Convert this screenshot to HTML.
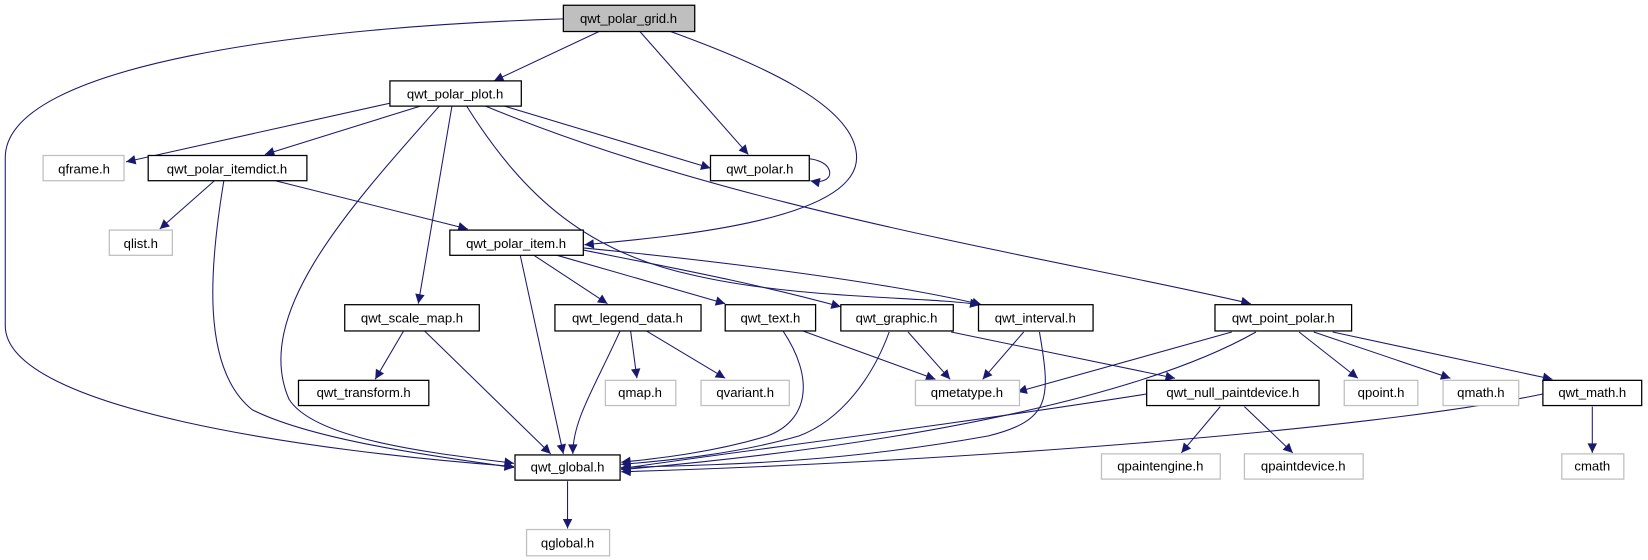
<!DOCTYPE html>
<html><head><meta charset="utf-8"><style>
html,body{margin:0;padding:0;background:#fff;}
svg{display:block;}
text{font-family:"Liberation Sans",sans-serif;font-size:12.5px;fill:#000;}
</style></head><body>
<svg width="1648" height="560" viewBox="0 0 1568 533" preserveAspectRatio="none" xmlns="http://www.w3.org/2000/svg">
<defs>
<marker id="a" viewBox="0 0 10 10" refX="10" refY="5" markerWidth="11" markerHeight="9" markerUnits="userSpaceOnUse" orient="auto">
<path d="M0,0 L10,5 L0,10 z" fill="#191970"/></marker>
</defs>
<g fill="none" stroke="#191970" stroke-width="1" marker-end="url(#a)">
<path d="M536,18 C300,25 5,60 5,150 L5,310 C5,390 300,430 489,444"/>
<path d="M572,29 L470,77"/>
<path d="M608,29 L712,147"/>
<path d="M638,30 C720,60 815,100 815,150 C815,210 640,225 556,233"/>
<path d="M372,98 L120,154"/>
<path d="M400,101 L252,147"/>
<path d="M418,101 C330,200 240,300 275,380 C300,420 420,432 489,441"/>
<path d="M430,101 L398,289"/>
<path d="M480,101 L676,160"/>
<path d="M444,101 C500,190 560,240 660,262 C760,285 880,282 932,290"/>
<path d="M462,101 C700,200 1000,245 1190,289"/>
<path d="M204,172 L152,218"/>
<path d="M213,172 C200,250 190,350 240,390 C300,420 420,435 489,445"/>
<path d="M262,172 L445,218"/>
<path d="M495,243 L536,432"/>
<path d="M508,243 L578,289"/>
<path d="M530,243 L690,289"/>
<path d="M555,238 C640,255 720,270 800,292"/>
<path d="M555,236 C700,250 850,270 934,290"/>
<path d="M384,315 L357,361"/>
<path d="M404,315 L524,432"/>
<path d="M590,315 C565,370 545,400 545,432"/>
<path d="M600,315 L606,360"/>
<path d="M615,315 L690,360"/>
<path d="M745,315 C775,360 770,400 730,415 C680,430 630,436 591,440"/>
<path d="M764,315 L890,361"/>
<path d="M846,316 C830,360 800,400 760,415 C700,432 640,438 591,442"/>
<path d="M864,316 L904,361"/>
<path d="M905,316 L1118,360"/>
<path d="M989,316 C1000,380 1000,400 940,415 C800,440 700,442 591,445"/>
<path d="M974,316 L935,361"/>
<path d="M1172,316 L968,373"/>
<path d="M1195,316 C1100,370 900,420 591,447"/>
<path d="M1236,316 L1292,360"/>
<path d="M1250,316 L1380,360"/>
<path d="M1268,316 L1477,361"/>
<path d="M1091,375 C900,405 700,430 591,446"/>
<path d="M1161,387 L1124,431"/>
<path d="M1184,387 L1230,431"/>
<path d="M1468,375 C1300,410 900,440 591,449"/>
<path d="M1515,387 L1515,431"/>
<path d="M540,458 L540,503"/>
<path d="M755,152 C795,145 800,178 771,172"/>
</g>
<g stroke-width="1.2" fill="#fff">
<rect x="536" y="5" width="125" height="25" fill="#bfbfbf" stroke="#000"/>
<rect x="371" y="77" width="125" height="24" stroke="#000"/>
<rect x="41" y="148" width="77" height="24" stroke="#bfbfbf"/>
<rect x="141" y="148" width="151" height="24" stroke="#000"/>
<rect x="676" y="148" width="94" height="24" stroke="#000"/>
<rect x="104" y="219" width="60" height="24" stroke="#bfbfbf"/>
<rect x="428" y="219" width="127" height="24" stroke="#000"/>
<rect x="328" y="290" width="128" height="25" stroke="#000"/>
<rect x="528" y="290" width="139" height="25" stroke="#000"/>
<rect x="690" y="290" width="86" height="25" stroke="#000"/>
<rect x="800" y="290" width="107" height="25" stroke="#000"/>
<rect x="931" y="290" width="109" height="25" stroke="#000"/>
<rect x="1156" y="290" width="130" height="25" stroke="#000"/>
<rect x="284" y="362" width="124" height="24" stroke="#000"/>
<rect x="576" y="362" width="67" height="24" stroke="#bfbfbf"/>
<rect x="667" y="362" width="84" height="24" stroke="#bfbfbf"/>
<rect x="871" y="362" width="99" height="24" stroke="#bfbfbf"/>
<rect x="1091" y="362" width="164" height="24" stroke="#000"/>
<rect x="1279" y="362" width="70" height="24" stroke="#bfbfbf"/>
<rect x="1373" y="362" width="72" height="24" stroke="#bfbfbf"/>
<rect x="1468" y="362" width="94" height="24" stroke="#000"/>
<rect x="490" y="433" width="100" height="24" stroke="#000"/>
<rect x="1048" y="432" width="113" height="24" stroke="#bfbfbf"/>
<rect x="1184" y="432" width="113" height="24" stroke="#bfbfbf"/>
<rect x="1486" y="432" width="59" height="24" stroke="#bfbfbf"/>
<rect x="501" y="504" width="79" height="25" stroke="#bfbfbf"/>
</g>
<g text-anchor="middle">
<text x="598" y="22">qwt_polar_grid.h</text>
<text x="433" y="94">qwt_polar_plot.h</text>
<text x="80" y="165">qframe.h</text>
<text x="216" y="165">qwt_polar_itemdict.h</text>
<text x="723" y="165">qwt_polar.h</text>
<text x="134" y="236">qlist.h</text>
<text x="491" y="236">qwt_polar_item.h</text>
<text x="392" y="307">qwt_scale_map.h</text>
<text x="597" y="307">qwt_legend_data.h</text>
<text x="733" y="307">qwt_text.h</text>
<text x="853" y="307">qwt_graphic.h</text>
<text x="985" y="307">qwt_interval.h</text>
<text x="1221" y="307">qwt_point_polar.h</text>
<text x="346" y="378">qwt_transform.h</text>
<text x="609" y="378">qmap.h</text>
<text x="709" y="378">qvariant.h</text>
<text x="920" y="378">qmetatype.h</text>
<text x="1173" y="378">qwt_null_paintdevice.h</text>
<text x="1314" y="378">qpoint.h</text>
<text x="1409" y="378">qmath.h</text>
<text x="1515" y="378">qwt_math.h</text>
<text x="540" y="449">qwt_global.h</text>
<text x="1104" y="448">qpaintengine.h</text>
<text x="1240" y="448">qpaintdevice.h</text>
<text x="1515" y="448">cmath</text>
<text x="540" y="521">qglobal.h</text>
</g>
</svg>
</body></html>
